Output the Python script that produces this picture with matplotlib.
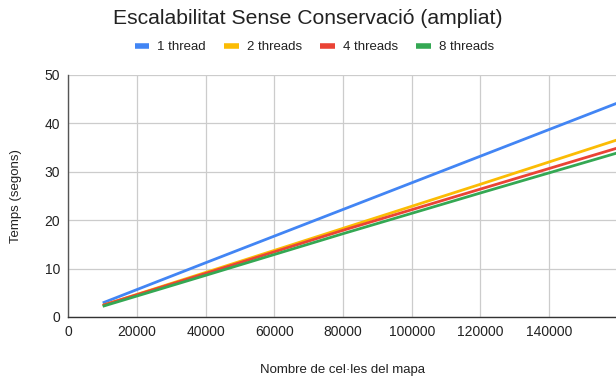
import matplotlib
matplotlib.use("Agg")
import matplotlib.pyplot as plt

plt.rcParams['font.family'] = ['Liberation Sans', 'DejaVu Sans']

cells = [10000, 40000, 80000, 120000, 160000]
t1 = [2.9, 11.2, 22.2, 33.2, 44.2]
t2 = [2.4, 9.2, 18.3, 27.4, 36.6]
t4 = [2.4, 9.0, 17.9, 26.4, 34.9]
t8 = [2.2, 8.6, 17.2, 25.6, 33.9]
labels = ["1 thread", "2 threads", "4 threads", "8 threads"]
colors = ["#4285F4", "#FBBC04", "#EA4335", "#34A853"]
xticks = [0, 20000, 40000, 60000, 80000, 100000, 120000, 140000]
yticks = [0, 10, 20, 30, 40, 50]

fig = plt.figure(figsize=(6.16, 3.76), dpi=100)
ax = fig.add_axes([0.111, 0.157, 0.889, 0.644])

for series, lab, col in zip([t1, t2, t4, t8], labels, colors):
    ax.plot(cells, series, color=col, lw=2, label=lab, solid_capstyle='butt')

ax.set_xlim(0, 159500)
ax.set_ylim(0, 50)
ax.set_xticks(xticks)
ax.set_xticklabels([str(v) for v in xticks])
ax.set_yticks(yticks)
ax.grid(True, color="#cccccc", lw=0.9)
ax.set_axisbelow(True)
for s in ['top', 'right']:
    ax.spines[s].set_visible(False)
ax.spines['left'].set_color('#555555')
ax.spines['bottom'].set_color('#333333')
ax.spines['left'].set_linewidth(1)
ax.spines['bottom'].set_linewidth(1)
ax.tick_params(length=0, labelsize=10, colors='#222222', pad=6)

ax.set_xlabel("Nombre de cel·les del mapa", fontsize=9.5, color='#222222', labelpad=18)
ax.set_ylabel("Temps (segons)", fontsize=9.5, color='#222222', labelpad=16)

fig.text(0.5, 0.950, "Escalabilitat Sense Conservació (ampliat)", ha='center', va='center',
         fontsize=15.2, color='#222222')
leg = fig.legend(loc='center', bbox_to_anchor=(0.51, 0.874), ncol=4, frameon=False,
                 fontsize=9.5, handlelength=1.1, handletextpad=0.6, columnspacing=1.4)
for h in leg.get_lines():
    h.set_linewidth(4)
for t in leg.get_texts():
    t.set_color('#222222')

fig.savefig("out.png", dpi=100)
